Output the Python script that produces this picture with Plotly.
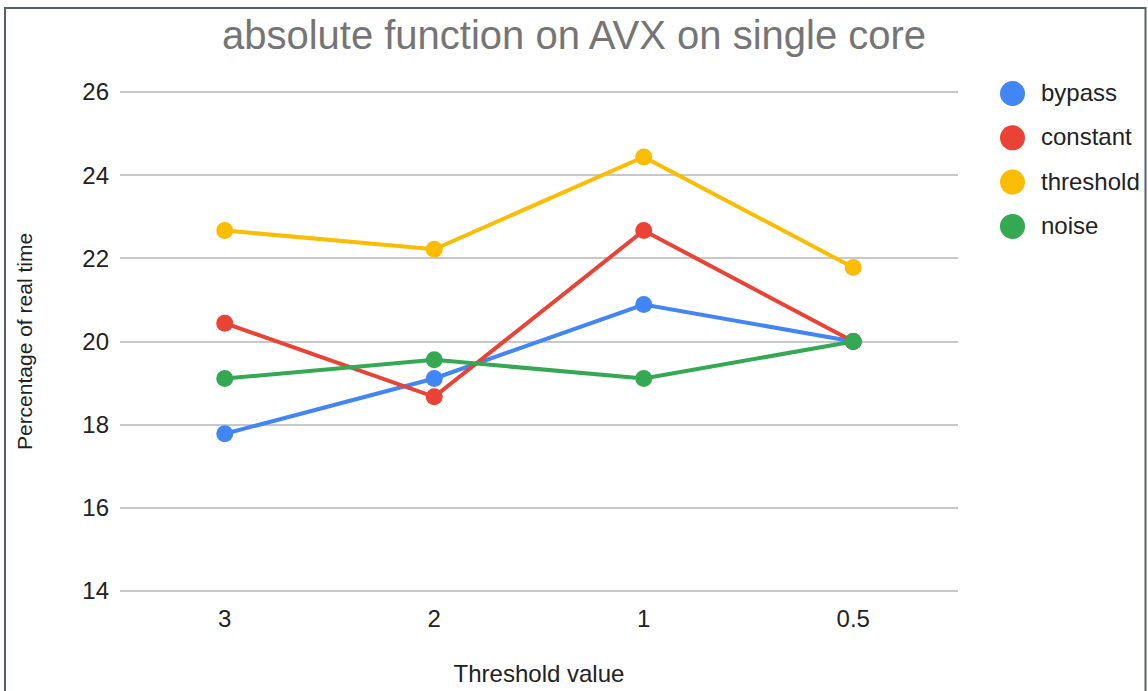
import plotly.graph_objects as go

# Threshold settings along the x axis
thresholds = ["3", "2", "1", "0.5"]

# Percentage of real time for each method
bypass = [17.78, 19.11, 20.89, 20.00]
constant = [20.44, 18.67, 22.67, 20.00]
threshold = [22.67, 22.22, 24.44, 21.78]
noise = [19.11, 19.56, 19.11, 20.00]

series_names = ["bypass", "constant", "threshold", "noise"]
series_values = [bypass, constant, threshold, noise]
series_colors = ["#4285F4", "#EA4335", "#FBBC04", "#34A853"]

y_ticks = [14, 16, 18, 20, 22, 24, 26]

W, H = 1148, 691
L, R, T, B = 120, 190, 90, 98
PW, PH = W - L - R, H - T - B

FONT = "Liberation Sans, Arial, sans-serif"
TXT = 24


def px_x(px):
    return (px - L) / PW


def px_y(py):
    return (H - B - py) / PH


fig = go.Figure()
for name, vals, col in zip(series_names, series_values, series_colors):
    fig.add_trace(go.Scatter(
        x=thresholds, y=vals, name=name, mode="lines+markers",
        line=dict(color=col, width=4),
        marker=dict(color=col, size=17),
        showlegend=False,
    ))

shapes = []
annotations = []

# Legend on the right: filled circles with labels
leg_x, leg_y0, leg_step = 1012.5, 93.5, 44.3
for i, (name, col) in enumerate(zip(series_names, series_colors)):
    cy = leg_y0 + i * leg_step
    shapes.append(dict(
        type="circle", xref="paper", yref="paper",
        xsizemode="pixel", ysizemode="pixel",
        xanchor=px_x(leg_x), yanchor=px_y(cy),
        x0=-12.5, x1=12.5, y0=-12.5, y1=12.5,
        fillcolor=col, line=dict(width=0),
    ))
    annotations.append(dict(
        text=name, xref="paper", yref="paper",
        x=px_x(1039), y=px_y(cy - 1), xanchor="left", yanchor="middle",
        showarrow=False, font=dict(family=FONT, size=TXT, color="#222222"),
    ))

# Outer frame
shapes.append(dict(
    type="rect", xref="paper", yref="paper",
    x0=px_x(5), x1=px_x(1145.5), y0=px_y(8), y1=px_y(720),
    line=dict(color="#56646a", width=2), fillcolor="rgba(0,0,0,0)",
    layer="above",
))

fig.update_layout(
    width=W, height=H,
    margin=dict(l=L, r=R, t=T, b=B, autoexpand=False),
    paper_bgcolor="white", plot_bgcolor="white",
    font=dict(family=FONT, size=TXT, color="#222222"),
    title=dict(
        text="absolute function on AVX on single core",
        x=(574 - L) / PW, xref="paper", xanchor="center",
        y=1 - 35 / H, yref="container", yanchor="middle",
        font=dict(family=FONT, size=40, color="#757575"),
    ),
    shapes=shapes,
    annotations=annotations,
    showlegend=False,
)

fig.update_xaxes(
    type="category", categoryorder="array", categoryarray=thresholds,
    range=[-0.5, 3.5], showgrid=False, zeroline=False, showline=False,
    ticks="", ticklabelstandoff=9,
    tickfont=dict(family=FONT, size=TXT, color="#222222"),
    title=dict(text="Threshold value", standoff=34,
               font=dict(family=FONT, size=TXT, color="#222222")),
)
fig.update_yaxes(
    range=[13.95, 26.05], tickvals=y_ticks, ticktext=[str(v) for v in y_ticks],
    showgrid=True, gridcolor="#c8c8c8", gridwidth=1.6,
    zeroline=False, showline=False, ticks="", ticklabelstandoff=10,
    tickfont=dict(family=FONT, size=TXT, color="#222222"),
    title=dict(text="Percentage of real time", standoff=43,
               font=dict(family=FONT, size=21, color="#222222")),
)

fig.write_html("out.html")
